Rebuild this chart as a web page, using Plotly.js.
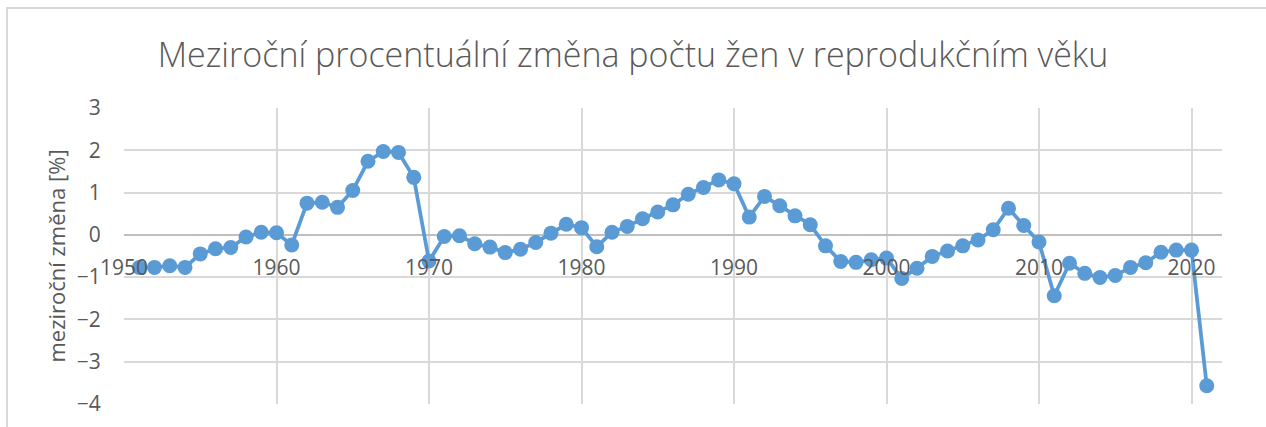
<!DOCTYPE html>
<html>
<head>
<meta charset="utf-8">
<script src="https://cdn.plot.ly/plotly-3.0.1.min.js"></script>
<style>
  html, body { margin: 0; padding: 0; background: #ffffff; overflow: hidden; }
  #frame { position: absolute; left: 6px; top: 7px; width: 1300px; height: 500px; border-left: 2px solid #d9d9d9; border-top: 2px solid #d9d9d9; }
  #chart { position: absolute; left: 0; top: 0; width: 1266px; height: 427px; }
</style>
</head>
<body>
<div id="frame"></div>
<div id="chart"></div>
<script>
const years = [1951,1952,1953,1954,1955,1956,1957,1958,1959,1960,
               1961,1962,1963,1964,1965,1966,1967,1968,1969,1970,
               1971,1972,1973,1974,1975,1976,1977,1978,1979,1980,
               1981,1982,1983,1984,1985,1986,1987,1988,1989,1990,
               1991,1992,1993,1994,1995,1996,1997,1998,1999,2000,
               2001,2002,2003,2004,2005,2006,2007,2008,2009,2010,
               2011,2012,2013,2014,2015,2016,2017,2018,2019,2020,
               2021];
const changePct = [-0.77,-0.77,-0.73,-0.77,-0.45,-0.33,-0.30,-0.05,0.06,0.05,
                   -0.24,0.75,0.77,0.65,1.05,1.74,1.97,1.95,1.36,-0.62,
                   -0.04,-0.02,-0.21,-0.29,-0.42,-0.34,-0.18,0.04,0.25,0.17,
                   -0.28,0.06,0.20,0.38,0.54,0.71,0.96,1.12,1.30,1.21,
                   0.42,0.91,0.69,0.45,0.24,-0.26,-0.63,-0.65,-0.59,-0.55,
                   -1.03,-0.79,-0.51,-0.38,-0.26,-0.12,0.12,0.63,0.22,-0.17,
                   -1.44,-0.67,-0.91,-1.01,-0.96,-0.77,-0.66,-0.41,-0.36,-0.36,
                   -3.57];
const xTickVals = [1950,1960,1970,1980,1990,2000,2010,2020];
const xTickText = ["1950","1960","1970","1980","1990","2000","2010","2020"];
const yTickVals = [-4,-3,-2,-1,0,1,2,3];

const txt = '#595959';
const grid = '#d9d9d9';
const fam = 'Open Sans, sans-serif';

const trace = {
  x: years, y: changePct, type: 'scatter', mode: 'lines+markers',
  line: { color: '#5b9bd5', width: 3.75 },
  marker: { color: '#5b9bd5', size: 15 },
  hoverinfo: 'x+y', showlegend: false
};

const layout = {
  width: 1266, height: 427,
  margin: { l: 124, r: 44, t: 108, b: 23, pad: 0 },
  paper_bgcolor: 'rgba(0,0,0,0)', plot_bgcolor: 'rgba(0,0,0,0)',
  title: { text: 'Meziroční procentuální změna počtu žen v reprodukčním věku',
           font: { family: fam, size: 34, color: txt, weight: 300 },
           x: 0.5, xanchor: 'center', y: 0.872, yanchor: 'middle' },
  xaxis: {
    range: [1950, 2022], tickvals: xTickVals, ticktext: xTickText,
    anchor: 'free', position: 4/7,
    showgrid: true, gridcolor: grid, gridwidth: 2,
    showline: false, zeroline: false,
    ticks: 'outside', ticklen: 14, tickcolor: 'rgba(0,0,0,0)',
    tickfont: { family: fam, size: 21, color: txt },
    fixedrange: true
  },
  yaxis: {
    range: [-4, 3], tickvals: yTickVals, dtick: 1,
    showgrid: true, gridcolor: grid, gridwidth: 2,
    zeroline: true, zerolinecolor: '#bfbfbf', zerolinewidth: 2,
    showline: false,
    ticks: 'outside', ticklen: 18, tickcolor: 'rgba(0,0,0,0)',
    tickfont: { family: fam, size: 21, color: txt },
    title: { text: 'meziroční změna [%]', font: { family: fam, size: 22, color: txt }, standoff: 5 },
    fixedrange: true
  }
};

Plotly.newPlot('chart', [trace], layout, { staticPlot: true, displayModeBar: false });
</script>
</body>
</html>
